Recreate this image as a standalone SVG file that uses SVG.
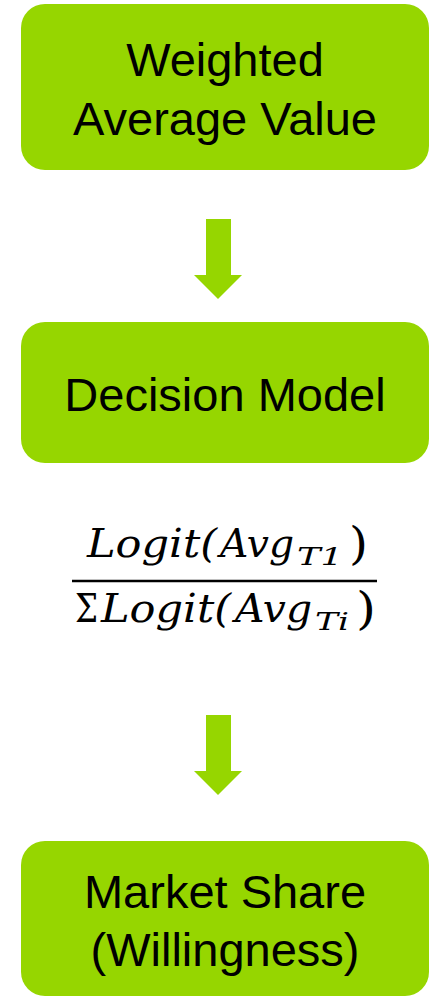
<svg xmlns="http://www.w3.org/2000/svg" width="436" height="997" viewBox="0 0 436 997">
<style>
.box{fill:#96D600}
.lbl{font-family:"Liberation Sans",Arial,sans-serif;font-size:47px;fill:#000;text-anchor:middle}
.arr{fill:#96D600}
.m{font-family:"DejaVu Serif",serif;font-style:italic;fill:#000}
.mb{font-size:40px}
.ms{font-size:25px}
.mp{font-size:44px;font-style:normal}
</style>
<rect width="436" height="997" fill="#fff"/>
<g id="node-weighted">
<rect class="box" x="21" y="4" width="408" height="166" rx="24"/>
<text class="lbl" x="225" y="76">Weighted</text>
<text class="lbl" x="225" y="135">Average Value</text>
</g>
<g id="node-decision">
<rect class="box" x="21" y="322" width="408" height="141" rx="24"/>
<text class="lbl" x="225" y="411">Decision Model</text>
</g>
<g id="node-market">
<rect class="box" x="21" y="841" width="408" height="155" rx="24"/>
<text class="lbl" x="225" y="908">Market Share</text>
<text class="lbl" x="225" y="966">(Willingness)</text>
</g>
<g id="formula">
<text class="m mb" x="87" y="557" textLength="130" lengthAdjust="spacingAndGlyphs">Logit(</text>
<text class="m mb" x="220" y="557" textLength="74" lengthAdjust="spacingAndGlyphs">Avg</text>
<text class="m ms" x="297" y="565" textLength="46" lengthAdjust="spacingAndGlyphs">T1</text>
<text class="m mp" x="349" y="559" textLength="19" lengthAdjust="spacingAndGlyphs">)</text>
<line x1="72" y1="581" x2="377" y2="581" stroke="#000" stroke-width="2.5"/>
<text class="m mb" x="75" y="622" style="font-style:normal" textLength="23" lengthAdjust="spacingAndGlyphs">Σ</text>
<text class="m mb" x="101" y="622" textLength="130" lengthAdjust="spacingAndGlyphs">Logit(</text>
<text class="m mb" x="235" y="622" textLength="77" lengthAdjust="spacingAndGlyphs">Avg</text>
<text class="m ms" x="315" y="630" textLength="34" lengthAdjust="spacingAndGlyphs">Ti</text>
<text class="m mp" x="356" y="624" textLength="20" lengthAdjust="spacingAndGlyphs">)</text>
</g>
<g id="connectors">
<polygon class="arr" points="206,219 231,219 231,275 242,275 218,299 194,275 206,275"/>
<polygon class="arr" points="206,715 231,715 231,771 242,771 218,795 194,771 206,771"/>
</g>
</svg>
